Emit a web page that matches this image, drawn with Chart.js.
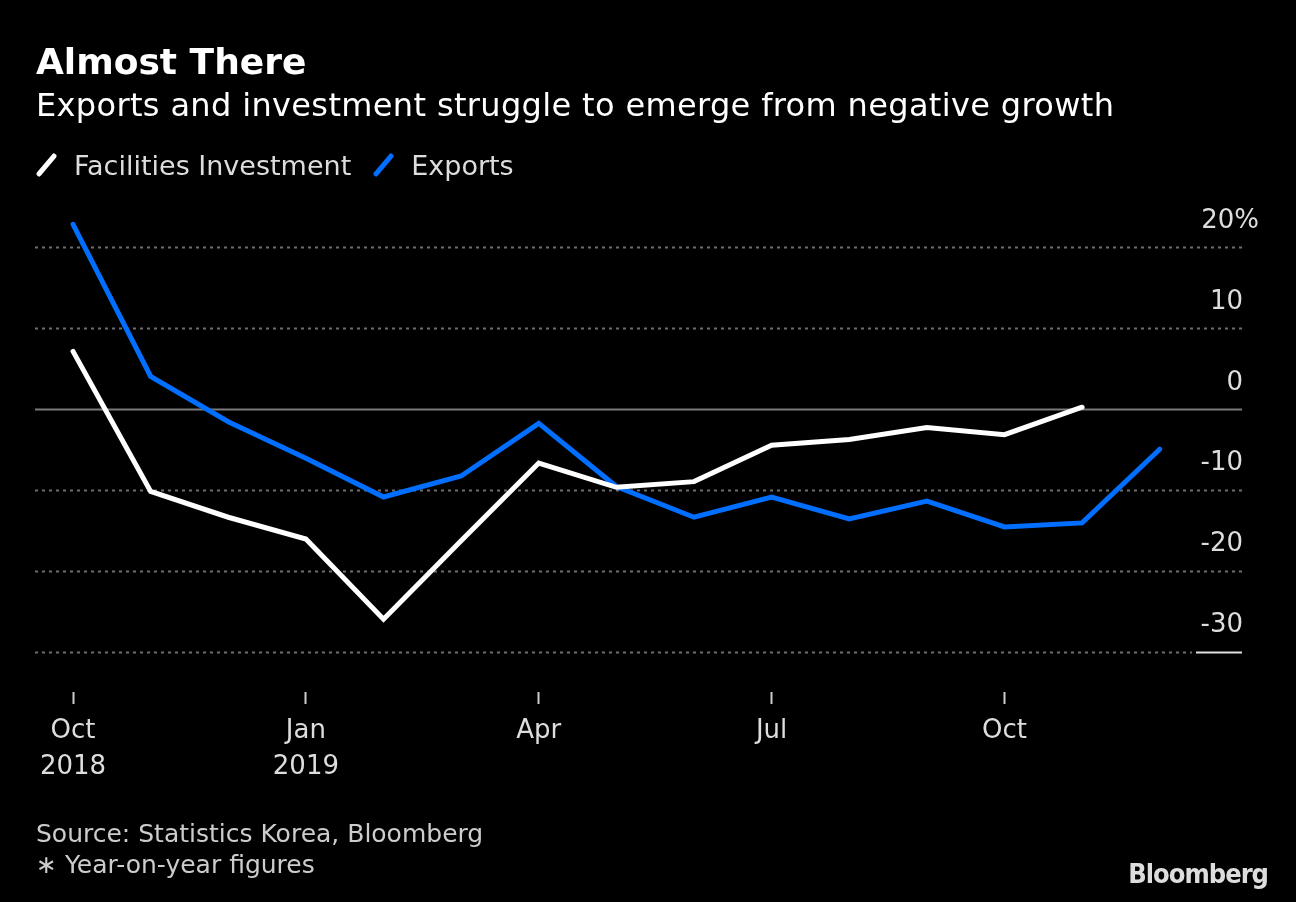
<!DOCTYPE html>
<html>
<head>
<meta charset="utf-8">
<script src="https://cdn.jsdelivr.net/npm/chart.js@4"></script>
<style>
  body { margin: 0; background: #000; }
  #wrap { position: relative; width: 1296px; height: 902px; background: #000; overflow: hidden;
          font-family: "DejaVu Sans", sans-serif; }
  #chart { position: absolute; left: 0; top: 0; }
  .txt { position: absolute; white-space: nowrap; }
  #title { left: 36px; top: 41px; font-size: 36px; font-weight: bold; color: #fff; }
  #subtitle { left: 36px; top: 86px; font-size: 32px; color: #fff; letter-spacing: 0.35px; }
  #legend { left: 36px; top: 150px; font-size: 27px; color: #ddd; }
  #legend .key { display: inline-block; width: 5px; height: 28px; transform: rotate(40deg);
                 vertical-align: -4px; margin: 0 25px 0 8px; border-radius: 2px; }
  #source { left: 36px; top: 818px; font-size: 25px; color: #ccc; line-height: 31px; }
  #logo { right: 28px; top: 858px; font-size: 27px; font-weight: bold; color: #ddd; letter-spacing: -1px;
          font-family: "DejaVu Sans Condensed", "DejaVu Sans", sans-serif; }
</style>
</head>
<body>
<div id="wrap">
  <canvas id="chart" width="1296" height="902"></canvas>
  <div class="txt" id="title">Almost There</div>
  <div class="txt" id="subtitle">Exports and investment struggle to emerge from negative growth</div>
  <div class="txt" id="legend"><span class="key" style="background:#fff"></span>Facilities Investment<span class="key" style="background:#006eff;margin-left:30px"></span>Exports</div>
  <div class="txt" id="source">Source: Statistics Korea, Bloomberg<br>∗ Year-on-year figures</div>
  <div class="txt" id="logo">Bloomberg</div>
</div>
<script>
// monthly, Oct 2018 .. Dec 2019
const months = ['Oct 2018', 'Nov 2018', 'Dec 2018', 'Jan 2019', 'Feb 2019', 'Mar 2019', 'Apr 2019',
                'May 2019', 'Jun 2019', 'Jul 2019', 'Aug 2019', 'Sep 2019', 'Oct 2019', 'Nov 2019', 'Dec 2019'];
const investment = [7.1, -10.2, -13.4, -16.1, -26.0, -16.3, -6.7, -9.7, -9.0, -4.5, -3.8, -2.3, -3.2, 0.2];
const exports = [22.8, 4.0, -1.6, -6.1, -10.9, -8.3, -1.8, -9.6, -13.4, -10.9, -13.6, -11.4, -14.6, -14.1, -5.0];
const xTickIdx = [0, 3, 6, 9, 12];
const xTickLabels = [['Oct', '2018'], ['Jan', '2019'], 'Apr', 'Jul', 'Oct'];
const yTicks = [20, 10, 0, -10, -20, -30];

const toPoints = arr => arr.map((v, i) => ({ x: i, y: v }));

// dotted grid lines, solid zero line, underline under the bottom label, y labels
const gridPlugin = {
    id: 'bbgGrid',
    beforeDatasetsDraw(chart) {
        const { ctx, chartArea: a, scales: { y } } = chart;
        ctx.save();
        yTicks.forEach((v, i) => {
            const py = Math.round(y.getPixelForValue(v)) + 0.5;
            ctx.lineWidth = 2;
            if (v === 0) {
                ctx.setLineDash([]);
                ctx.strokeStyle = '#7a7a7a';
                ctx.beginPath(); ctx.moveTo(a.left, py); ctx.lineTo(a.right, py); ctx.stroke();
                return;
            }
            const last = i === yTicks.length - 1;
            ctx.setLineDash([3, 4]);
            ctx.strokeStyle = '#6e6e6e';
            ctx.beginPath(); ctx.moveTo(a.left, py); ctx.lineTo(last ? a.right - 50 : a.right, py); ctx.stroke();
            if (last) {
                ctx.setLineDash([]);
                ctx.strokeStyle = '#e0e0e0';
                ctx.beginPath(); ctx.moveTo(a.right - 46, py); ctx.lineTo(a.right, py); ctx.stroke();
            }
        });
        ctx.restore();
    },
    afterDraw(chart) {
        const { ctx, chartArea: a, scales: { y } } = chart;
        ctx.save();
        ctx.font = '26px "DejaVu Sans", sans-serif';
        ctx.fillStyle = '#dddddd';
        ctx.textAlign = 'right';
        ctx.textBaseline = 'middle';
        yTicks.forEach((v, i) => {
            const py = y.getPixelForValue(v) - 26;
            if (i === 0) ctx.fillText(v + '%', a.right + 17, py);
            else ctx.fillText(String(v), a.right + 1, py);
        });
        ctx.restore();
    }
};

new Chart(document.getElementById('chart'), {
    type: 'line',
    data: {
        datasets: [{
            label: 'Facilities Investment',
            data: toPoints(investment),
            borderColor: '#ffffff',
            borderWidth: 5,
            pointRadius: 0,
            borderCapStyle: 'round',
            clip: false
        }, {
            label: 'Exports',
            data: toPoints(exports),
            borderColor: '#006eff',
            borderWidth: 5,
            pointRadius: 0,
            borderCapStyle: 'round',
            clip: false
        }]
    },
    options: {
        responsive: false,
        animation: false,
        layout: { padding: { left: 35, right: 54, top: 247, bottom: 110 } },
        plugins: { legend: { display: false }, tooltip: { enabled: false } },
        scales: {
            x: {
                type: 'linear',
                min: -0.49,
                max: 15.06,
                afterBuildTicks: scale => { scale.ticks = xTickIdx.map(v => ({ value: v })); },
                afterFit: scale => { scale.height = 100; },
                border: { display: false },
                grid: { drawOnChartArea: false, drawTicks: true, tickLength: 12, tickWidth: 2, tickColor: '#cccccc' },
                ticks: {
                    autoSkip: false,
                    maxRotation: 0,
                    padding: 9,
                    color: '#dddddd',
                    font: { size: 26, family: '"DejaVu Sans", sans-serif', lineHeight: 1.38 },
                    callback: value => xTickLabels[xTickIdx.indexOf(value)]
                }
            },
            y: {
                display: false,
                min: -35,
                max: 20
            }
        }
    },
    plugins: [gridPlugin]
});
</script>
</body>
</html>
